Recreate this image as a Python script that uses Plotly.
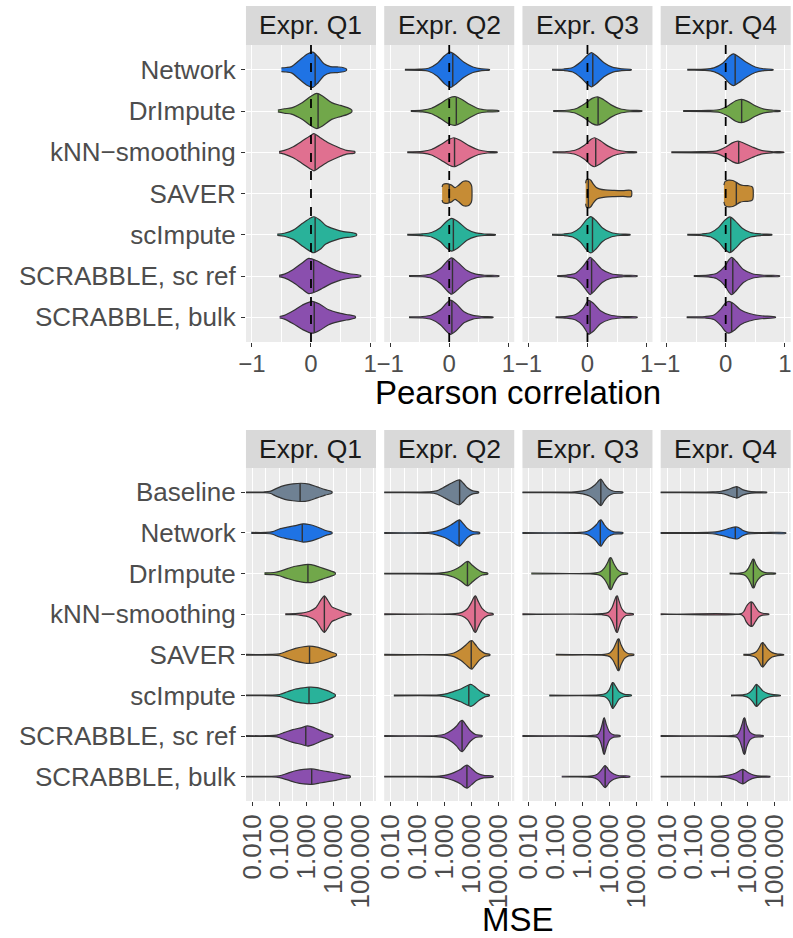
import numpy as np
import plotly.graph_objects as go

W, H = 793, 938
QUARTERS = ["Expr. Q1", "Expr. Q2", "Expr. Q3", "Expr. Q4"]
PEARSON_METHODS = ["Network", "DrImpute", "kNN−smoothing", "SAVER", "scImpute",
                   "SCRABBLE, sc ref", "SCRABBLE, bulk"]
MSE_METHODS = ["Baseline"] + PEARSON_METHODS
COLORS = {
    "Baseline": "#6F8193", "Network": "#1F73E4", "DrImpute": "#71A74A",
    "kNN−smoothing": "#E07090", "SAVER": "#C68C35", "scImpute": "#29B29A",
    "SCRABBLE, sc ref": "#8A4FAE", "SCRABBLE, bulk": "#8A4FAE",
}

# ---- Pearson correlation violins: density profile knots (x, relative half-width) + median, per quarter
PEARSON_X = {
    "Network": [[-0.50, -0.42, -0.33, -0.2, -0.06, 0.03, 0.12, 0.22, 0.33, 0.45, 0.55, 0.60],
                [-0.75, -0.5, -0.35, -0.2, -0.08, 0.02, 0.12, 0.25, 0.4, 0.55, 0.68],
                [-0.60, -0.4, -0.25, -0.12, 0.0, 0.07, 0.15, 0.28, 0.42, 0.58, 0.74],
                [-0.65, -0.35, -0.2, -0.05, 0.06, 0.13, 0.22, 0.35, 0.5, 0.65, 0.80]],
    "DrImpute": [[-0.56, -0.45, -0.33, -0.15, 0.0, 0.1, 0.2, 0.35, 0.5, 0.62, 0.69],
                 [-0.65, -0.45, -0.3, -0.15, 0.0, 0.1, 0.2, 0.35, 0.5, 0.65, 0.84],
                 [-0.58, -0.35, -0.2, -0.05, 0.08, 0.17, 0.27, 0.4, 0.55, 0.72, 0.92],
                 [-0.72, -0.3, -0.1, 0.05, 0.17, 0.27, 0.37, 0.5, 0.65, 0.8, 0.92]],
    "kNN−smoothing": [[-0.54, -0.45, -0.3, -0.15, 0.0, 0.05, 0.15, 0.3, 0.45, 0.6, 0.74],
                      [-0.71, -0.45, -0.3, -0.15, 0.0, 0.08, 0.2, 0.35, 0.5, 0.65, 0.81],
                      [-0.59, -0.35, -0.2, -0.05, 0.06, 0.12, 0.22, 0.35, 0.5, 0.65, 0.83],
                      [-0.92, -0.4, -0.15, 0.0, 0.12, 0.21, 0.3, 0.45, 0.6, 0.78, 0.98]],
    "SAVER": [None,
              [-0.12, -0.11, -0.08, -0.02, 0.04, 0.1, 0.16, 0.24, 0.32, 0.36, 0.38],
              [-0.03, -0.02, 0.02, 0.06, 0.1, 0.15, 0.2, 0.3, 0.45, 0.6, 0.74],
              [-0.03, -0.01, 0.05, 0.12, 0.18, 0.24, 0.3, 0.38, 0.44, 0.46]],
    "scImpute": [[-0.57, -0.45, -0.3, -0.15, 0.0, 0.05, 0.15, 0.25, 0.4, 0.55, 0.68, 0.77],
                 [-0.71, -0.45, -0.3, -0.15, -0.05, 0.04, 0.15, 0.3, 0.45, 0.6, 0.78],
                 [-0.6, -0.4, -0.25, -0.12, -0.02, 0.055, 0.14, 0.25, 0.4, 0.55, 0.72],
                 [-0.65, -0.4, -0.25, -0.12, -0.01, 0.07, 0.16, 0.28, 0.42, 0.6, 0.78]],
    "SCRABBLE, sc ref": [[-0.54, -0.45, -0.3, -0.15, -0.04, 0.1, 0.2, 0.35, 0.5, 0.65, 0.84],
                         [-0.68, -0.45, -0.3, -0.15, -0.05, 0.04, 0.15, 0.3, 0.45, 0.6, 0.84],
                         [-0.51, -0.35, -0.2, -0.08, 0.0, 0.045, 0.12, 0.25, 0.4, 0.6, 0.84],
                         [-0.54, -0.3, -0.15, -0.02, 0.05, 0.1, 0.18, 0.3, 0.45, 0.65, 0.91]],
    "SCRABBLE, bulk": [[-0.53, -0.45, -0.3, -0.15, 0.02, 0.15, 0.3, 0.45, 0.6, 0.75],
                       [-0.68, -0.45, -0.3, -0.15, -0.05, 0.02, 0.12, 0.25, 0.4, 0.55, 0.74],
                       [-0.54, -0.35, -0.2, -0.08, -0.01, 0.02, 0.1, 0.22, 0.38, 0.58, 0.84],
                       [-0.66, -0.35, -0.2, -0.08, 0.0, 0.055, 0.14, 0.25, 0.4, 0.6, 0.84]],
}
PEARSON_W = {
    "Network": [[0.10, 0.12, 0.17, 0.50, 0.85, 0.95, 0.70, 0.32, 0.17, 0.15, 0.11, 0.04],
                [0.02, 0.03, 0.08, 0.35, 0.75, 0.95, 0.75, 0.4, 0.15, 0.05, 0.02],
                [0.02, 0.04, 0.12, 0.4, 0.78, 0.92, 0.75, 0.38, 0.14, 0.05, 0.02],
                [0.02, 0.03, 0.1, 0.35, 0.72, 0.86, 0.7, 0.4, 0.15, 0.05, 0.02]],
    "DrImpute": [[0.05, 0.12, 0.17, 0.45, 0.8, 0.95, 0.8, 0.45, 0.3, 0.18, 0.05],
                 [0.02, 0.05, 0.15, 0.4, 0.7, 0.77, 0.65, 0.35, 0.12, 0.05, 0.02],
                 [0.02, 0.04, 0.12, 0.38, 0.68, 0.76, 0.62, 0.33, 0.12, 0.04, 0.02],
                 [0.02, 0.03, 0.08, 0.3, 0.55, 0.63, 0.52, 0.28, 0.1, 0.04, 0.02]],
    "kNN−smoothing": [[0.03, 0.1, 0.3, 0.6, 0.92, 1.0, 0.8, 0.5, 0.28, 0.1, 0.04],
                      [0.02, 0.05, 0.15, 0.4, 0.7, 0.78, 0.62, 0.33, 0.12, 0.04, 0.02],
                      [0.02, 0.04, 0.12, 0.38, 0.7, 0.78, 0.62, 0.33, 0.12, 0.04, 0.02],
                      [0.02, 0.03, 0.07, 0.28, 0.52, 0.6, 0.5, 0.28, 0.1, 0.03, 0.02]],
    "SAVER": [None,
              [0.35, 0.47, 0.52, 0.52, 0.45, 0.32, 0.45, 0.66, 0.66, 0.55, 0.4],
              [0.55, 0.72, 0.78, 0.7, 0.5, 0.32, 0.25, 0.19, 0.17, 0.16, 0.16],
              [0.45, 0.65, 0.72, 0.7, 0.6, 0.48, 0.43, 0.42, 0.38, 0.3]],
    "scImpute": [[0.03, 0.08, 0.25, 0.6, 0.92, 0.97, 0.8, 0.5, 0.3, 0.17, 0.12, 0.04],
                 [0.02, 0.05, 0.12, 0.38, 0.7, 0.88, 0.7, 0.3, 0.1, 0.04, 0.02],
                 [0.02, 0.04, 0.12, 0.4, 0.8, 0.98, 0.78, 0.38, 0.12, 0.04, 0.02],
                 [0.02, 0.04, 0.12, 0.4, 0.8, 0.96, 0.75, 0.35, 0.12, 0.04, 0.02]],
    "SCRABBLE, sc ref": [[0.03, 0.1, 0.35, 0.7, 0.95, 0.82, 0.65, 0.4, 0.22, 0.12, 0.03],
                         [0.02, 0.04, 0.12, 0.4, 0.75, 0.98, 0.72, 0.3, 0.1, 0.04, 0.02],
                         [0.02, 0.05, 0.15, 0.5, 0.85, 1.0, 0.8, 0.35, 0.12, 0.04, 0.02],
                         [0.02, 0.05, 0.15, 0.5, 0.85, 1.0, 0.78, 0.35, 0.12, 0.04, 0.02]],
    "SCRABBLE, bulk": [[0.04, 0.1, 0.35, 0.65, 0.86, 0.7, 0.4, 0.25, 0.15, 0.04],
                       [0.02, 0.04, 0.12, 0.4, 0.75, 0.92, 0.72, 0.3, 0.1, 0.04, 0.02],
                       [0.02, 0.05, 0.15, 0.45, 0.8, 0.91, 0.75, 0.35, 0.12, 0.04, 0.02],
                       [0.02, 0.04, 0.12, 0.45, 0.78, 0.86, 0.72, 0.4, 0.2, 0.08, 0.02]],
}
PEARSON_MEDIAN = {
    "Network": [0.07, 0.06, 0.09, 0.16],
    "DrImpute": [0.12, 0.12, 0.18, 0.27],
    "kNN−smoothing": [0.07, 0.09, 0.14, 0.22],
    "SAVER": [None, 0.0, 0.015, 0.18],
    "scImpute": [0.07, 0.07, 0.085, 0.085],
    "SCRABBLE, sc ref": [0.045, 0.055, 0.07, 0.12],
    "SCRABBLE, bulk": [0.055, 0.045, 0.045, 0.10],
}

# ---- MSE violins (knots given as log10 MSE)
MSE_LOG10_X = {
    "Baseline": [[-2.3, -1.6, -1.35, -1.1, -0.8, -0.5, -0.2, 0.1, 0.4, 0.7, 0.95],
                 [-2.3, -0.6, -0.3, 0.0, 0.25, 0.45, 0.56, 0.7, 0.85, 1.05, 1.26],
                 [-2.3, -0.3, 0.0, 0.25, 0.45, 0.6, 0.68, 0.8, 0.95, 1.15, 1.48],
                 [-2.3, -0.3, 0.0, 0.25, 0.45, 0.58, 0.65, 0.8, 1.0, 1.3, 1.69]],
    "Network": [[-2.04, -1.5, -1.25, -1.0, -0.7, -0.4, -0.12, 0.15, 0.45, 0.75, 0.95],
                [-2.3, -0.6, -0.3, 0.0, 0.25, 0.45, 0.56, 0.7, 0.85, 1.05, 1.3],
                [-2.3, -0.1, 0.15, 0.35, 0.5, 0.62, 0.68, 0.8, 0.95, 1.15, 1.48],
                [-2.3, -0.5, -0.2, 0.1, 0.35, 0.55, 0.65, 0.8, 1.0, 1.5, 2.4]],
    "DrImpute": [[-1.55, -1.2, -1.0, -0.7, -0.4, -0.1, 0.06, 0.3, 0.6, 0.9, 1.07],
                 [-2.3, -0.2, 0.1, 0.35, 0.6, 0.78, 0.87, 1.0, 1.2, 1.4, 1.6],
                 [-1.91, 0.4, 0.65, 0.8, 0.92, 1.0, 1.05, 1.15, 1.3, 1.45, 1.66],
                 [0.32, 0.7, 0.9, 1.02, 1.12, 1.18, 1.22, 1.3, 1.45, 1.65, 2.02]],
    "kNN−smoothing": [[-0.78, -0.4, -0.2, 0.1, 0.35, 0.55, 0.67, 0.8, 0.95, 1.1, 1.3, 1.5, 1.66],
                      [-2.3, 0.4, 0.65, 0.85, 1.0, 1.1, 1.15, 1.25, 1.4, 1.6, 1.8],
                      [-2.3, 0.7, 0.95, 1.08, 1.18, 1.24, 1.28, 1.35, 1.45, 1.6, 1.87],
                      [-2.3, 0.75, 0.85, 0.95, 1.05, 1.12, 1.18, 1.28, 1.4, 1.55, 1.77]],
    "SAVER": [[-2.3, -1.3, -1.0, -0.7, -0.4, -0.1, 0.1, 0.4, 0.7, 0.95, 1.11],
              [-2.3, 0.1, 0.35, 0.6, 0.8, 0.95, 1.02, 1.15, 1.3, 1.5, 1.68],
              [-1.0, 0.8, 1.0, 1.12, 1.22, 1.3, 1.34, 1.42, 1.55, 1.7, 1.89],
              [0.83, 1.1, 1.3, 1.42, 1.5, 1.55, 1.62, 1.75, 1.9, 2.1, 2.32]],
    "scImpute": [[-2.3, -1.3, -1.0, -0.7, -0.4, -0.1, 0.1, 0.4, 0.7, 0.95, 1.07],
                 [-1.88, -0.2, 0.1, 0.35, 0.6, 0.8, 0.98, 1.1, 1.3, 1.5, 1.66],
                 [-1.24, 0.6, 0.85, 0.98, 1.05, 1.1, 1.13, 1.22, 1.35, 1.55, 1.8],
                 [0.37, 0.85, 1.05, 1.18, 1.27, 1.32, 1.4, 1.55, 1.75, 1.95, 2.2]],
    "SCRABBLE, sc ref": [[-2.3, -1.4, -1.1, -0.8, -0.5, -0.2, 0.05, 0.3, 0.6, 0.85, 0.98],
                         [-2.3, -0.3, 0.0, 0.25, 0.45, 0.58, 0.66, 0.8, 0.95, 1.15, 1.39],
                         [-2.3, 0.3, 0.55, 0.65, 0.72, 0.77, 0.8, 0.88, 1.0, 1.15, 1.38],
                         [-2.3, 0.4, 0.6, 0.7, 0.78, 0.84, 0.88, 0.95, 1.08, 1.25, 1.56]],
    "SCRABBLE, bulk": [[-2.3, -1.3, -1.0, -0.7, -0.4, -0.1, 0.2, 0.5, 0.8, 1.1, 1.4, 1.62],
                       [-2.3, -0.2, 0.1, 0.35, 0.6, 0.75, 0.84, 1.0, 1.2, 1.45, 1.8],
                       [-0.78, 0.35, 0.55, 0.68, 0.78, 0.83, 0.9, 1.0, 1.15, 1.35, 1.74],
                       [-2.3, 0.0, 0.3, 0.55, 0.72, 0.81, 0.9, 1.05, 1.25, 1.5, 1.81]],
}
MSE_W = {
    "Baseline": [[0.02, 0.02, 0.05, 0.22, 0.38, 0.46, 0.5, 0.45, 0.3, 0.15, 0.04],
                 [0.02, 0.03, 0.08, 0.3, 0.5, 0.65, 0.68, 0.5, 0.25, 0.08, 0.03],
                 [0.02, 0.03, 0.08, 0.2, 0.4, 0.65, 0.72, 0.45, 0.2, 0.06, 0.03],
                 [0.02, 0.03, 0.06, 0.15, 0.26, 0.31, 0.28, 0.15, 0.07, 0.03, 0.02]],
    "Network": [[0.03, 0.03, 0.07, 0.22, 0.32, 0.4, 0.5, 0.45, 0.3, 0.12, 0.04],
                [0.02, 0.03, 0.1, 0.25, 0.45, 0.65, 0.72, 0.5, 0.25, 0.08, 0.03],
                [0.02, 0.03, 0.08, 0.25, 0.45, 0.68, 0.72, 0.45, 0.2, 0.06, 0.03],
                [0.02, 0.03, 0.06, 0.16, 0.27, 0.33, 0.3, 0.15, 0.05, 0.02, 0.02]],
    "DrImpute": [[0.04, 0.06, 0.12, 0.27, 0.4, 0.48, 0.5, 0.45, 0.3, 0.15, 0.05],
                 [0.02, 0.03, 0.08, 0.2, 0.4, 0.62, 0.67, 0.5, 0.25, 0.08, 0.03],
                 [0.02, 0.03, 0.1, 0.3, 0.6, 0.85, 0.87, 0.55, 0.2, 0.06, 0.03],
                 [0.02, 0.03, 0.1, 0.3, 0.6, 0.78, 0.78, 0.5, 0.2, 0.05, 0.02]],
    "kNN−smoothing": [[0.02, 0.03, 0.06, 0.15, 0.35, 0.8, 1.0, 0.75, 0.4, 0.3, 0.18, 0.07, 0.02],
                      [0.02, 0.03, 0.1, 0.3, 0.65, 0.95, 1.0, 0.7, 0.3, 0.08, 0.03],
                      [0.02, 0.03, 0.1, 0.35, 0.75, 0.97, 1.0, 0.7, 0.3, 0.07, 0.03],
                      [0.02, 0.03, 0.15, 0.45, 0.62, 0.67, 0.63, 0.4, 0.15, 0.05, 0.02]],
    "SAVER": [[0.02, 0.02, 0.05, 0.2, 0.35, 0.44, 0.47, 0.42, 0.28, 0.14, 0.05],
              [0.02, 0.03, 0.1, 0.3, 0.55, 0.75, 0.78, 0.55, 0.28, 0.08, 0.03],
              [0.02, 0.03, 0.1, 0.3, 0.6, 0.85, 0.87, 0.55, 0.2, 0.06, 0.03],
              [0.02, 0.04, 0.15, 0.4, 0.62, 0.67, 0.55, 0.3, 0.12, 0.04, 0.02]],
    "scImpute": [[0.02, 0.02, 0.05, 0.2, 0.35, 0.42, 0.45, 0.43, 0.3, 0.15, 0.05],
                 [0.02, 0.03, 0.1, 0.22, 0.35, 0.5, 0.6, 0.5, 0.25, 0.08, 0.03],
                 [0.02, 0.03, 0.1, 0.3, 0.55, 0.7, 0.7, 0.5, 0.2, 0.06, 0.03],
                 [0.02, 0.04, 0.15, 0.35, 0.55, 0.6, 0.5, 0.25, 0.1, 0.04, 0.02]],
    "SCRABBLE, sc ref": [[0.02, 0.02, 0.05, 0.2, 0.35, 0.45, 0.55, 0.45, 0.25, 0.12, 0.05],
                         [0.02, 0.03, 0.1, 0.3, 0.55, 0.8, 0.86, 0.6, 0.3, 0.08, 0.03],
                         [0.02, 0.03, 0.08, 0.3, 0.65, 0.95, 1.0, 0.6, 0.2, 0.06, 0.03],
                         [0.02, 0.03, 0.08, 0.3, 0.65, 0.95, 1.0, 0.6, 0.2, 0.06, 0.03]],
    "SCRABBLE, bulk": [[0.02, 0.02, 0.05, 0.18, 0.32, 0.4, 0.42, 0.35, 0.27, 0.2, 0.1, 0.05],
                       [0.02, 0.03, 0.1, 0.22, 0.4, 0.58, 0.63, 0.45, 0.2, 0.07, 0.03],
                       [0.02, 0.04, 0.15, 0.35, 0.55, 0.6, 0.5, 0.3, 0.14, 0.05, 0.03],
                       [0.02, 0.03, 0.08, 0.2, 0.35, 0.4, 0.33, 0.18, 0.07, 0.03, 0.02]],
}
MSE_LOG10_MEDIAN = {
    "Baseline": [-0.23, 0.56, 0.67, 0.59],
    "Network": [-0.15, 0.54, 0.65, 0.53],
    "DrImpute": [0.06, 0.85, 1.01, 1.2],
    "kNN−smoothing": [0.67, 1.13, 1.26, 1.12],
    "SAVER": [0.12, 0.99, 1.32, 1.55],
    "scImpute": [0.1, 0.9, 1.11, 1.32],
    "SCRABBLE, sc ref": [-0.02, 0.65, 0.78, 0.86],
    "SCRABBLE, bulk": [0.2, 0.83, 0.83, 0.81],
}

PEARSON_TICKS = [-1, 0, 1]
PEARSON_TICKTEXT = ["−1", "0", "1"]
MSE_TICKS = [0.01, 0.1, 1, 10, 100]
MSE_TICKTEXT = ["0.010", "0.100", "1.000", "10.000", "100.000"]

# ---------------- layout geometry (pixels) ----------------
FONT = "Liberation Sans, Arial, sans-serif"
TICK_FS = 26
XTICK_TOP_FS = 24
STRIP_FS = 26.5
TITLE_FS = 33
PANEL_X = [(240, 371.7), (380, 511.7), (520, 651.7), (660, 791.7)]
TOP_Y = (45, 342)
BOT_Y = (468, 801)
TOP_STRIP = (6, 45)
BOT_STRIP = (430, 468)
MAXW = 0.45


def fx(p):
    return p / W


def fy(p):
    return 1 - p / H


def sfx(n):
    return "" if n == 1 else str(n)


fig = go.Figure()
layout = dict(width=W, height=H, margin=dict(l=0, r=0, t=0, b=0),
              paper_bgcolor="white", plot_bgcolor="#EBEBEB",
              showlegend=False, font=dict(family=FONT))
shapes, annotations = [], []
EDGE = "#333333"


def add_violin(n, cat, xs_data, ws, color):
    xs_data = np.asarray(xs_data, float)
    hw = np.asarray(ws, float) * MAXW
    fig.add_trace(go.Scatter(
        x=np.concatenate([xs_data, xs_data[::-1]]),
        y=np.concatenate([cat - hw, (cat + hw)[::-1]]),
        mode="lines", fill="toself", fillcolor=color,
        line=dict(color=EDGE, width=1.2, shape="spline", smoothing=0.8),
        xaxis="x" + sfx(n), yaxis="y" + sfx(n), hoverinfo="skip"))


for qi in range(4):
    # ---- top panel (Pearson)
    n = qi + 1
    s = sfx(n)
    x0, x1 = PANEL_X[qi]
    for ci, m in enumerate(PEARSON_METHODS):
        xs = PEARSON_X[m][qi]
        if xs is None:
            continue
        c = ci + 1
        add_violin(n, c, xs, PEARSON_W[m][qi], COLORS[m])
        med = PEARSON_MEDIAN[m][qi]
        hm = np.interp(med, xs, PEARSON_W[m][qi]) * MAXW
        fig.add_trace(go.Scatter(x=[med, med], y=[c - hm, c + hm], mode="lines",
                                 line=dict(color=EDGE, width=1.4),
                                 xaxis="x" + s, yaxis="y" + s, hoverinfo="skip"))
    layout["xaxis" + s] = dict(
        domain=[fx(x0), fx(x1)], anchor="y" + s, range=[-1.1, 1.1],
        tickvals=PEARSON_TICKS, ticktext=PEARSON_TICKTEXT,
        ticks="outside", ticklen=4, tickwidth=1.1, tickcolor="#333333",
        ticklabelstandoff=-4,
        tickfont=dict(size=XTICK_TOP_FS, color="#4D4D4D"),
        showgrid=True, gridcolor="white", gridwidth=1.2, zeroline=False,
        minor=dict(tickvals=[-0.5, 0.5], showgrid=True, gridcolor="white",
                   gridwidth=0.6, ticks=""))
    layout["yaxis" + s] = dict(
        domain=[fy(TOP_Y[1]), fy(TOP_Y[0])], anchor="x" + s, range=[7.6, 0.4],
        tickvals=list(range(1, 8)), ticktext=PEARSON_METHODS,
        showticklabels=(qi == 0), ticks="outside" if qi == 0 else "",
        ticklen=4, tickwidth=1.1, tickcolor="#333333",
        tickfont=dict(size=TICK_FS, color="#4D4D4D"),
        showgrid=True, gridcolor="white", gridwidth=1.2, zeroline=False)
    shapes.append(dict(type="line", xref="x" + s, yref="y" + s + " domain",
                       x0=0, x1=0, y0=0, y1=1, layer="above",
                       line=dict(color="black", width=1.8, dash="dash")))
    shapes.append(dict(type="rect", xref="paper", yref="paper",
                       x0=fx(x0), x1=fx(x1), y0=fy(TOP_STRIP[1]), y1=fy(TOP_STRIP[0]),
                       fillcolor="#D9D9D9", line=dict(width=0), layer="below"))
    annotations.append(dict(text=QUARTERS[qi], xref="paper", yref="paper",
                            x=fx((x0 + x1) / 2), y=fy(sum(TOP_STRIP) / 2),
                            showarrow=False, xanchor="center", yanchor="middle",
                            font=dict(size=STRIP_FS, color="#1A1A1A")))

    # ---- bottom panel (MSE)
    n = qi + 5
    s = sfx(n)
    for ci, m in enumerate(MSE_METHODS):
        c = ci + 1
        lx = np.asarray(MSE_LOG10_X[m][qi], float)
        add_violin(n, c, np.power(10.0, lx), MSE_W[m][qi], COLORS[m])
        lmed = MSE_LOG10_MEDIAN[m][qi]
        hm = np.interp(lmed, lx, MSE_W[m][qi]) * MAXW
        fig.add_trace(go.Scatter(x=[10 ** lmed, 10 ** lmed], y=[c - hm, c + hm],
                                 mode="lines", line=dict(color=EDGE, width=1.4),
                                 xaxis="x" + s, yaxis="y" + s, hoverinfo="skip"))
    layout["xaxis" + s] = dict(
        domain=[fx(x0), fx(x1)], anchor="y" + s, type="log", range=[-2.238, 2.586],
        tickvals=MSE_TICKS, ticktext=MSE_TICKTEXT, tickangle=-90,
        ticks="outside", ticklen=4, tickwidth=1.1, tickcolor="#333333",
        ticklabelstandoff=-2,
        tickfont=dict(size=TICK_FS, color="#4D4D4D"),
        showgrid=True, gridcolor="white", gridwidth=1.2, zeroline=False,
        minor=dict(tickvals=[10 ** -1.5, 10 ** -0.5, 10 ** 0.5, 10 ** 1.5, 10 ** 2.5],
                   showgrid=True, gridcolor="white", gridwidth=0.6, ticks=""))
    layout["yaxis" + s] = dict(
        domain=[fy(BOT_Y[1]), fy(BOT_Y[0])], anchor="x" + s, range=[8.6, 0.4],
        tickvals=list(range(1, 9)), ticktext=MSE_METHODS,
        showticklabels=(qi == 0), ticks="outside" if qi == 0 else "",
        ticklen=4, tickwidth=1.1, tickcolor="#333333",
        tickfont=dict(size=TICK_FS, color="#4D4D4D"),
        showgrid=True, gridcolor="white", gridwidth=1.2, zeroline=False)
    shapes.append(dict(type="rect", xref="paper", yref="paper",
                       x0=fx(x0), x1=fx(x1), y0=fy(BOT_STRIP[1]), y1=fy(BOT_STRIP[0]),
                       fillcolor="#D9D9D9", line=dict(width=0), layer="below"))
    annotations.append(dict(text=QUARTERS[qi], xref="paper", yref="paper",
                            x=fx((x0 + x1) / 2), y=fy(sum(BOT_STRIP) / 2),
                            showarrow=False, xanchor="center", yanchor="middle",
                            font=dict(size=STRIP_FS, color="#1A1A1A")))

annotations.append(dict(text="Pearson correlation", xref="paper", yref="paper",
                        x=fx(515.8), y=fy(392), showarrow=False,
                        xanchor="center", yanchor="middle",
                        font=dict(size=TITLE_FS, color="black")))
annotations.append(dict(text="MSE", xref="paper", yref="paper",
                        x=fx(515.8), y=fy(919), showarrow=False,
                        xanchor="center", yanchor="middle",
                        font=dict(size=TITLE_FS, color="black")))

layout["shapes"] = shapes
layout["annotations"] = annotations
fig.update_layout(**layout)
fig.update_traces(showlegend=False)
fig.write_html("out.html")
